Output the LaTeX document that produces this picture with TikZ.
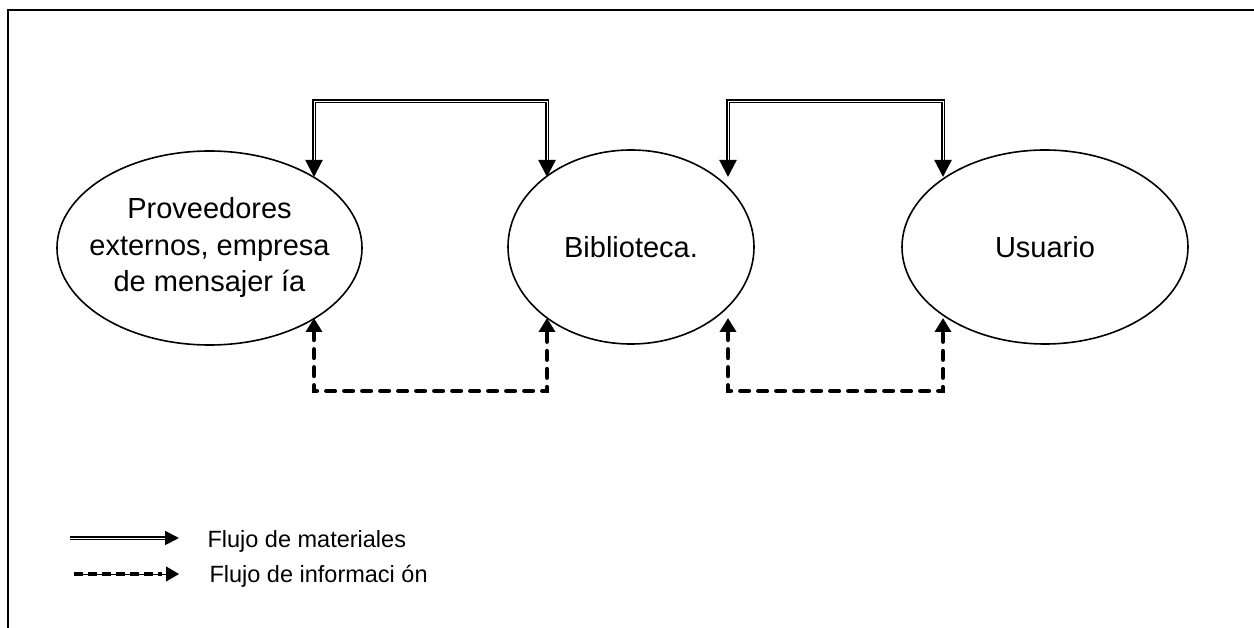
\documentclass[tikz,border=0pt]{standalone}
\usepackage{fontspec}
\setmainfont{Liberation Sans}
\usetikzlibrary{arrows.meta,shapes.geometric}
\begin{document}
\begin{tikzpicture}[x=1pt,y=-1pt,
  blob/.style={draw, line width=1.6pt, ellipse, minimum width=#1, minimum height=194pt, inner sep=-45pt, align=center, font=\fontsize{29}{36.5}\selectfont},
  matflow/.style={line width=2.2pt, double=white, double distance=0.5pt, {Triangle[length=17pt,width=17pt]}-{Triangle[length=17pt,width=17pt]}},
  infoflow/.style={line width=4pt, line cap=round, dash pattern=on 9pt off 9pt, {Triangle[length=14pt,width=16pt]}-{Triangle[length=14pt,width=16pt]}},
  legtext/.style={anchor=west, font=\fontsize{23.5}{28}\selectfont}]
\useasboundingbox (0,0) rectangle (1254,628);
\draw[line width=2pt] (8,628) -- (8,10) -- (1254,10);
\node[blob=305pt] (prov) at (209.5,248) {Proveedores\\externos, empresa\\de mensajer ía};
\node[blob=246pt] (bib) at (631,247) {Biblioteca.};
\node[blob=286pt] (usr) at (1045,247) {Usuario};
% attachment points
\coordinate (pT) at (314,177);
\coordinate (bTl) at (547,177);
\coordinate (bTr) at (728,177);
\coordinate (uT) at (943,177);
\coordinate (pB) at (314,318);
\coordinate (bBl) at (547,318);
\coordinate (bBr) at (728,318);
\coordinate (uB) at (943,318);
\draw[matflow] (pT) -- ++(0,-76) -| (bTl);
\draw[matflow] (bTr) -- ++(0,-76) -| (uT);
\draw[infoflow] (pB) -- ++(0,73) -| (bBl);
\draw[infoflow] (bBr) -- ++(0,73) -| (uB);
% legend
\coordinate (l1a) at (70,538);
\coordinate (l1b) at (179,538);
\draw[line width=1.8pt, double=white, double distance=1pt, -{Triangle[length=14pt,width=14pt]}] (l1a) -- (l1b);
\node[legtext] (t1) at (204,541) {Flujo de materiales};
\coordinate (l2a) at (74,574);
\coordinate (l2b) at (179,574);
\draw[line width=0.8pt, -{Triangle[length=13pt,width=15pt]}] (l2a) -- (l2b);
\draw[line width=4pt, dash pattern=on 9pt off 5pt] (l2a) -- ++(88,0);
\node[legtext] (t2) at (206,576) {Flujo de informaci ón};
\end{tikzpicture}
\end{document}
